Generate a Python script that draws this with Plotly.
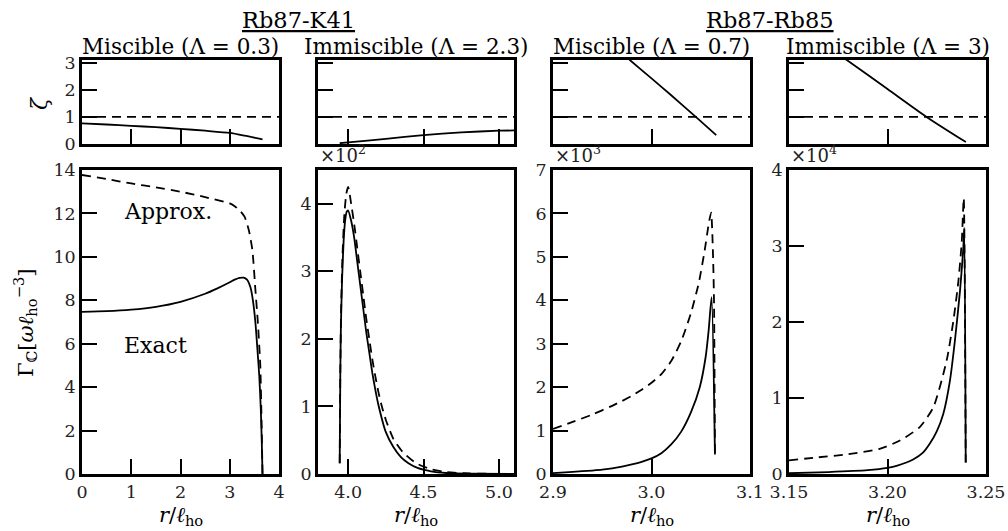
import plotly.graph_objects as go

# ---------------- data ----------------
# Panel 1: Rb87-K41, miscible (Lambda = 0.3); Gamma in units of omega*l_ho^-3
k41_mis_zeta_r = [0, 0.5, 1, 1.5, 2, 2.5, 3, 3.3, 3.665]
k41_mis_zeta = [0.76, 0.72, 0.67, 0.62, 0.56, 0.49, 0.41, 0.31, 0.17]
k41_mis_exact_r = [0, 0.5, 1.0, 1.5, 2.0, 2.5, 2.75, 3.0, 3.1, 3.2, 3.28, 3.35, 3.42, 3.47, 3.52, 3.56, 3.6,
                   3.63, 3.65, 3.665]
k41_mis_exact = [7.47, 7.5, 7.57, 7.7, 7.93, 8.3, 8.55, 8.83, 8.95, 9.03, 9.04, 8.95, 8.6, 8.0, 7.0, 5.8,
                 4.5, 3.0, 1.5, 0.0]
k41_mis_approx_r = [0, 0.5, 1.0, 1.5, 2.0, 2.5, 3.0, 3.1, 3.2, 3.3, 3.39, 3.46, 3.52, 3.57, 3.62, 3.645, 3.665]
k41_mis_approx = [13.77, 13.58, 13.38, 13.2, 13.0, 12.75, 12.46, 12.33, 12.15, 11.85, 11.2, 10.3, 8.5, 7.0,
                  5.0, 2.5, 0.0]

# Panel 2: Rb87-K41, immiscible (Lambda = 2.3); Gamma in units of 1e2
k41_imm_zeta_r = [3.944, 4.0, 4.25, 4.5, 4.75, 5.0, 5.1]
k41_imm_zeta = [0.03, 0.06, 0.19, 0.33, 0.43, 0.49, 0.5]
k41_imm_exact_r = [3.944, 3.948, 3.952, 3.96, 3.97, 3.98, 3.99, 4.0, 4.02, 4.04, 4.06, 4.08, 4.1, 4.12,
                   4.14, 4.16, 4.18, 4.2, 4.25, 4.3, 4.35, 4.4, 4.46, 4.55, 4.65, 4.8, 5.1]
k41_imm_exact = [0.16, 1.5, 2.2, 2.9, 3.45, 3.75, 3.88, 3.9, 3.75, 3.5, 3.15, 2.8, 2.45, 2.1,
                 1.8, 1.5, 1.25, 1.03, 0.62, 0.4, 0.25, 0.16, 0.09, 0.04, 0.015, 0.004, 0.0]
k41_imm_approx_r = [3.944, 3.948, 3.953, 3.962, 3.975, 3.988, 4.0, 4.02, 4.04, 4.06, 4.08, 4.1, 4.12,
                    4.14, 4.16, 4.18, 4.2, 4.22, 4.25, 4.3, 4.36, 4.45, 4.55, 4.65, 4.8, 5.1]
k41_imm_approx = [0.16, 1.5, 2.4, 3.2, 3.85, 4.15, 4.25, 4.0, 3.7, 3.35, 3.0, 2.65, 2.3,
                  2.0, 1.7, 1.45, 1.22, 1.03, 0.8, 0.52, 0.33, 0.16, 0.07, 0.03, 0.008, 0.0]

# Panel 3: Rb87-Rb85, miscible (Lambda = 0.7); Gamma in units of 1e3
rb85_mis_zeta_r = [2.95, 2.978, 3.0, 3.02, 3.045, 3.0657]
rb85_mis_zeta = [4.0, 3.1, 2.42, 1.8, 1.0, 0.33]
rb85_mis_exact_r = [2.9, 2.92, 2.94, 2.95, 2.97, 2.98, 2.99, 3.0, 3.01, 3.02, 3.03, 3.04, 3.049, 3.055, 3.058,
                    3.061, 3.0644]
rb85_mis_exact = [0.02, 0.05, 0.08, 0.1, 0.17, 0.22, 0.28, 0.36, 0.48, 0.68, 0.97, 1.42, 2.0, 2.7, 3.3,
                  4.07, 0.45]
rb85_mis_approx_r = [2.9, 2.92, 2.94, 2.96, 2.97, 2.98, 2.99, 3.0, 3.01, 3.02, 3.03, 3.04, 3.048, 3.054,
                     3.058, 3.0605, 3.0625, 3.0635, 3.0644]
rb85_mis_approx = [1.04, 1.2, 1.37, 1.57, 1.68, 1.8, 1.94, 2.1, 2.3, 2.6, 3.05, 3.7, 4.4, 5.15,
                   5.75, 6.02, 5.0, 3.9, 0.45]

# Panel 4: Rb87-Rb85, immiscible (Lambda = 3); Gamma in units of 1e4
rb85_imm_zeta_r = [3.17, 3.1797, 3.2, 3.2198, 3.2398]
rb85_imm_zeta = [3.58, 3.08, 2.03, 1.0, 0.07]
rb85_imm_exact_r = [3.15, 3.17, 3.19, 3.2, 3.205, 3.213, 3.218, 3.2215, 3.225, 3.2283, 3.2317, 3.2342,
                    3.2368, 3.2385, 3.239, 3.2397]
rb85_imm_exact = [0.01, 0.025, 0.05, 0.08, 0.11, 0.19, 0.28, 0.40, 0.56, 0.79, 1.23, 1.75, 2.41, 2.98, 3.24, 0.15]
rb85_imm_approx_r = [3.15, 3.165, 3.18, 3.196, 3.2063, 3.2165, 3.2233, 3.23, 3.2334, 3.236, 3.2377, 3.2387, 3.2397]
rb85_imm_approx = [0.18, 0.22, 0.26, 0.33, 0.44, 0.62, 0.88, 1.49, 2.01, 2.54, 3.06, 3.63, 0.15]

zeta_threshold = 1.0

panel_titles = ["Miscible (Λ = 0.3)", "Immiscible (Λ = 2.3)", "Miscible (Λ = 0.7)", "Immiscible (Λ = 3)"]
group_titles = ["Rb87-K41", "Rb87-Rb85"]
x_ranges = [[0, 4], [3.8, 5.1], [2.9, 3.1], [3.15, 3.25]]
x_ticks = [[0, 1, 2, 3, 4], [4.0, 4.5, 5.0], [2.9, 3.0, 3.1], [3.15, 3.20, 3.25]]
x_fmt = [".0f", ".1f", ".1f", ".2f"]
y_ranges = [[0, 14], [0, 4.5], [0, 7], [0, 4]]
y_ticks = [list(range(0, 15, 2)), [0, 1, 2, 3, 4], list(range(0, 8)), [0, 1, 2, 3, 4]]
y_scale_exp = [None, 2, 3, 4]
zeta_range = [0, 3.1]
zeta_ticks = [0, 1, 2, 3]

zeta_r = [k41_mis_zeta_r, k41_imm_zeta_r, rb85_mis_zeta_r, rb85_imm_zeta_r]
zeta_v = [k41_mis_zeta, k41_imm_zeta, rb85_mis_zeta, rb85_imm_zeta]
exact_r = [k41_mis_exact_r, k41_imm_exact_r, rb85_mis_exact_r, rb85_imm_exact_r]
exact_v = [k41_mis_exact, k41_imm_exact, rb85_mis_exact, rb85_imm_exact]
approx_r = [k41_mis_approx_r, k41_imm_approx_r, rb85_mis_approx_r, rb85_imm_approx_r]
approx_v = [k41_mis_approx, k41_imm_approx, rb85_mis_approx, rb85_imm_approx]

# ---------------- layout geometry ----------------
W, H = 1008, 531
FONT = "DejaVu Serif, Liberation Serif, serif"
px_x = [(82, 279), (318, 514), (553, 750), (789, 986)]
top_dom = [1 - 144 / H, 1 - 60 / H]
main_dom = [1 - 474 / H, 1 - 170 / H]

fig = go.Figure()
line_w = 1.8
dash_style = "9px,6px"

for i in range(4):
    top = i + 1
    main = i + 5
    xt = "x" if top == 1 else f"x{top}"
    yt = "y" if top == 1 else f"y{top}"
    xm, ym = f"x{main}", f"y{main}"
    # zeta panel
    fig.add_trace(go.Scatter(x=x_ranges[i], y=[zeta_threshold, zeta_threshold], mode="lines",
                             line=dict(color="black", width=1.6, dash=dash_style),
                             xaxis=xt, yaxis=yt, showlegend=False))
    fig.add_trace(go.Scatter(x=zeta_r[i], y=zeta_v[i], mode="lines",
                             line=dict(color="black", width=line_w, shape="spline", smoothing=0.6),
                             xaxis=xt, yaxis=yt, showlegend=False))
    # main panel
    fig.add_trace(go.Scatter(x=approx_r[i], y=approx_v[i], mode="lines",
                             line=dict(color="black", width=line_w, dash=dash_style,
                                       shape="spline", smoothing=0.6),
                             xaxis=xm, yaxis=ym, showlegend=False))
    fig.add_trace(go.Scatter(x=exact_r[i], y=exact_v[i], mode="lines",
                             line=dict(color="black", width=line_w, shape="spline", smoothing=0.6),
                             xaxis=xm, yaxis=ym, showlegend=False))

axis_common = dict(showline=True, linecolor="black", linewidth=2.5, mirror=True,
                   ticks="inside", ticklen=15, tickwidth=1.5, tickcolor="black",
                   showgrid=False, zeroline=False, automargin=False,
                   tickfont=dict(family=FONT, size=17.5, color="#222"))

layout = dict(width=W, height=H, margin=dict(l=0, r=0, t=0, b=0, autoexpand=False),
              paper_bgcolor="white", plot_bgcolor="white", showlegend=False,
              font=dict(family=FONT, color="black"))

for i in range(4):
    dom = [px_x[i][0] / W, px_x[i][1] / W]
    top = i + 1
    main = i + 5
    xk = "xaxis" if top == 1 else f"xaxis{top}"
    yk = "yaxis" if top == 1 else f"yaxis{top}"
    layout[xk] = dict(axis_common, domain=dom, range=x_ranges[i], tickvals=x_ticks[i],
                      showticklabels=False, anchor="y" if top == 1 else f"y{top}")
    layout[yk] = dict(axis_common, domain=top_dom, range=zeta_range, tickvals=zeta_ticks,
                      showticklabels=(i == 0), anchor="x" if top == 1 else f"x{top}")
    layout[f"xaxis{main}"] = dict(axis_common, domain=dom, range=x_ranges[i], tickvals=x_ticks[i],
                                  tickformat=x_fmt[i], anchor=f"y{main}")
    layout[f"yaxis{main}"] = dict(axis_common, domain=main_dom, range=y_ranges[i], tickvals=y_ticks[i],
                                  anchor=f"x{main}")

fig.update_layout(**layout)

ann = []
for i in range(4):
    cx = (px_x[i][0] + px_x[i][1]) / 2 / W
    ann.append(dict(text=panel_titles[i], x=cx, y=1 - 46 / H, xref="paper", yref="paper",
                    xanchor="center", yanchor="middle", showarrow=False,
                    font=dict(family=FONT, size=21.5, color="black")))
    ann.append(dict(text="<i>r</i>/<i>ℓ</i><sub>ho</sub>", x=cx, y=1 - 516 / H, xref="paper", yref="paper",
                    xanchor="center", yanchor="middle", showarrow=False,
                    font=dict(family=FONT, size=21, color="black")))
    if y_scale_exp[i] is not None:
        ann.append(dict(text=f"×10<sup>{y_scale_exp[i]}</sup>", x=px_x[i][0] / W, y=1 - 168 / H,
                        xref="paper", yref="paper", xanchor="left", yanchor="bottom", showarrow=False,
                        font=dict(family=FONT, size=18, color="#222")))

group_cx = [(px_x[0][0] + px_x[1][1]) / 2 / W, (px_x[2][0] + px_x[3][1]) / 2 / W]
for t, cx in zip(group_titles, group_cx):
    ann.append(dict(text=f"<u>{t}</u>", x=cx, y=1 - 20 / H, xref="paper", yref="paper",
                    xanchor="center", yanchor="middle", showarrow=False,
                    font=dict(family=FONT, size=22.5, color="black")))

ann.append(dict(text="Approx.", x=0.81, y=12.1, xref="x5", yref="y5", xanchor="left", yanchor="middle",
                showarrow=False, font=dict(family=FONT, size=22, color="black")))
ann.append(dict(text="Exact", x=0.81, y=5.93, xref="x5", yref="y5", xanchor="left", yanchor="middle",
                showarrow=False, font=dict(family=FONT, size=22, color="black")))
ann.append(dict(text="<i>ζ</i>", x=39 / W, y=1 - 103 / H, xref="paper", yref="paper",
                xanchor="center", yanchor="middle", textangle=-90, showarrow=False,
                font=dict(family=FONT, size=22, color="black")))
ann.append(dict(text="Γ<sub>ℂ</sub>[<i>ω</i><i>ℓ</i><sub>ho</sub><sup>−3</sup>]", x=25 / W, y=1 - 323 / H,
                xref="paper", yref="paper", xanchor="center", yanchor="middle", textangle=-90,
                showarrow=False, font=dict(family=FONT, size=21, color="black")))

fig.update_layout(annotations=ann)
fig.write_html("out.html", config={"displayModeBar": False},
               post_script="document.body.style.margin='0';document.body.style.overflow='hidden';")
